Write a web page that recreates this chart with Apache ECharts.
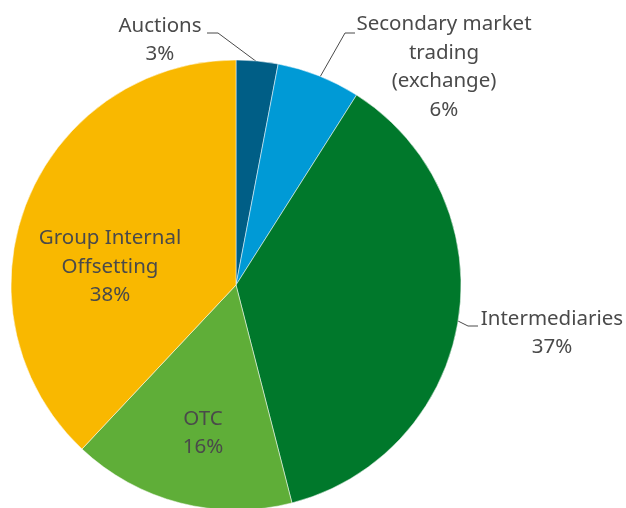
<!DOCTYPE html>
<html>
<head>
<meta charset="utf-8">
<script src="https://cdn.jsdelivr.net/npm/echarts@6/dist/echarts.min.js"></script>
<style>
  html, body { margin: 0; padding: 0; background: #fff; }
  #main { width: 626px; height: 508px; }
</style>
</head>
<body>
<div id="main"></div>
<script>
// data
var names = ['Auctions', 'Secondary market\ntrading\n(exchange)', 'Intermediaries', 'OTC', 'Group Internal\nOffsetting'];
var shares = [3, 6, 37, 16, 38];
var colors = ['#005e86', '#009ad6', '#00782b', '#5fae38', '#f9b800'];
var outsideLabel = [true, true, true, false, false];

// label centres and leader lines (pixels)
var labelPos = [[160, 40], [444, 67], [552, 333], [203, 433], [110, 267]];
var leaders = [
  [[257, 62], [218, 33], [207, 33]],
  [[320, 77], [345, 33], [355, 33]],
  [[458, 321], [468, 326], [478, 326]],
  null,
  null
];

var myChart = echarts.init(document.getElementById('main'));
var option = {
  animation: false,
  series: [
    {
      type: 'pie',
      center: [236, 285],
      radius: 225,
      startAngle: 90,
      clockwise: true,
      itemStyle: {
        borderColor: '#fff',
        borderWidth: 0.5
      },
      label: {
        formatter: '{b}\n{c}%',
        fontFamily: 'Noto Sans',
        fontSize: 20.5,
        lineHeight: 28.5,
        color: '#4a4a4a',
        align: 'center',
        overflow: 'none'
      },
      labelLine: {
        lineStyle: { color: '#4a4a4a', width: 1 }
      },
      labelLayout: function (p) {
        var pos = labelPos[p.dataIndex];
        var r = { x: pos[0], y: pos[1], align: 'center', verticalAlign: 'middle', width: 200 };
        if (leaders[p.dataIndex]) r.labelLinePoints = leaders[p.dataIndex];
        return r;
      },
      data: names.map(function (n, i) {
        return {
          name: n,
          value: shares[i],
          itemStyle: { color: colors[i] },
          label: { position: outsideLabel[i] ? 'outside' : 'inside' },
          labelLine: { show: outsideLabel[i] }
        };
      })
    }
  ]
};
myChart.setOption(option);
</script>
</body>
</html>
